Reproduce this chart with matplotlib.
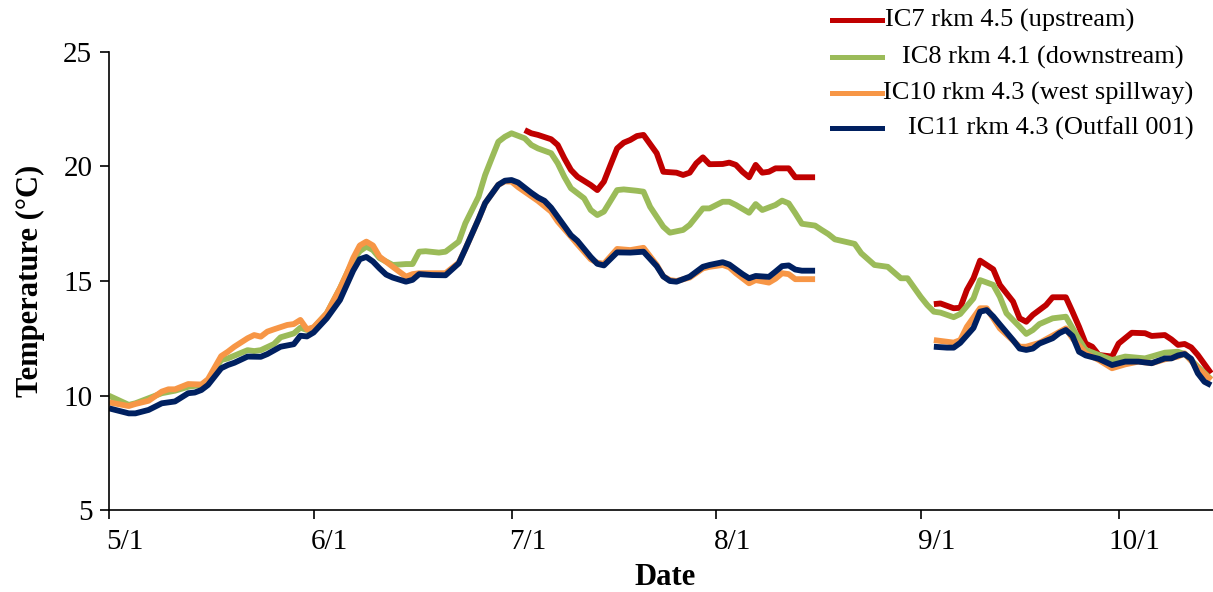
import numpy as np
import pandas as pd
import matplotlib
matplotlib.use('Agg')
import matplotlib.pyplot as plt
import matplotlib.dates as mdates
from matplotlib.lines import Line2D

plt.rcParams['font.family'] = ['Liberation Serif', 'DejaVu Serif']

# days after 5/1 and temperatures (°C)
start = pd.Timestamp('2012-05-01')

ic7_days_a = [63, 64, 65, 67, 68, 69, 70, 71, 73, 74, 75, 76, 77, 78, 79, 80, 81, 83, 84, 86,
              87, 88, 89, 90, 91, 93, 94, 95, 96, 97, 98, 99, 100, 101, 103, 104, 107]
ic7_temp_a = [21.59, 21.45, 21.38, 21.19, 20.94, 20.36, 19.85, 19.55, 19.19, 18.97,
              19.34, 20.07, 20.79, 21.04, 21.16, 21.33, 21.38, 20.58, 19.77, 19.73,
              19.63, 19.73, 20.14, 20.40, 20.10, 20.11, 20.17, 20.07, 19.77, 19.53,
              20.07, 19.73, 19.77, 19.92, 19.92, 19.53, 19.53]
ic7_days_b = [125, 126, 128, 129, 130, 131, 132, 134, 135, 137, 138, 139, 140, 142, 143, 145,
              146, 147, 148, 149, 150, 152, 153, 155, 157, 158, 160, 161, 162, 163, 164, 165, 167]
ic7_temp_b = [13.99, 14.02, 13.81, 13.83, 14.61, 15.12, 15.89, 15.51, 14.83, 14.10,
              13.37, 13.22, 13.52, 13.95, 14.29, 14.29, 13.66, 13.00, 12.27, 12.13,
              11.77, 11.70, 12.27, 12.74, 12.72, 12.60, 12.64, 12.45, 12.21, 12.25,
              12.10, 11.77, 10.97]

ic8_days = [0, 3, 4, 8, 10, 12, 14, 15, 17, 18,
            21, 22, 23, 25, 26, 28, 29, 30, 31, 33,
            35, 36, 37, 38, 39, 40, 41, 43, 45, 46,
            47, 48, 50, 51, 53, 54, 56, 57, 58, 59,
            60, 61, 63, 64, 65, 67, 68, 69, 70, 72,
            73, 74, 75, 77, 78, 80, 81, 82, 84, 85,
            87, 88, 90, 91, 93, 94, 95, 97, 98, 99,
            101, 102, 103, 104, 105, 107, 108, 109, 110, 113,
            114, 116, 118, 120, 121, 123, 124, 125, 126, 128,
            129, 131, 132, 134, 135, 136, 138, 139, 140, 141,
            143, 145, 146, 147, 148, 150, 152, 154, 157, 160,
            162, 163, 165, 167]
ic8_temp = [9.99, 9.59, 9.66, 10.10, 10.21, 10.38, 10.46, 10.64, 11.55, 11.62,
            11.98, 11.94, 11.98, 12.25, 12.54, 12.71, 12.96, 12.86, 12.95, 13.59,
            14.68, 15.30, 15.90, 16.30, 16.50, 16.35, 16.00, 15.70, 15.74, 15.74,
            16.28, 16.30, 16.24, 16.28, 16.72, 17.52, 18.68, 19.63, 20.36, 21.08,
            21.30, 21.45, 21.23, 20.94, 20.79, 20.58, 20.14, 19.55, 19.05, 18.61,
            18.10, 17.88, 18.03, 18.97, 19.00, 18.94, 18.90, 18.24, 17.37, 17.11,
            17.23, 17.45, 18.17, 18.17, 18.46, 18.46, 18.32, 17.98, 18.36, 18.10,
            18.32, 18.51, 18.39, 17.96, 17.50, 17.42, 17.23, 17.05, 16.82, 16.62,
            16.21, 15.70, 15.62, 15.12, 15.12, 14.31, 13.95, 13.66, 13.62, 13.42,
            13.56, 14.24, 15.04, 14.83, 14.31, 13.59, 13.00, 12.69, 12.86, 13.12,
            13.37, 13.44, 12.95, 12.45, 11.99, 11.77, 11.55, 11.70, 11.62, 11.87,
            11.91, 11.81, 11.26, 10.71]

ic10_days_a = [0, 3, 4, 6, 8, 9, 10, 12, 14, 15,
               17, 18, 19, 21, 22, 23, 24, 25, 27, 28,
               29, 30, 31, 33, 35, 36, 37, 38, 39, 40,
               41, 43, 45, 46, 47, 51, 53, 54, 56, 57,
               59, 60, 61, 62, 64, 65, 67, 68, 70, 71,
               73, 74, 75, 77, 79, 81, 83, 84, 85, 86,
               88, 90, 91, 93, 94, 95, 97, 98, 100, 101,
               102, 103, 104, 105, 107]
ic10_temp_a = [9.70, 9.54, 9.63, 9.77, 10.17, 10.27, 10.27, 10.50, 10.48, 10.71,
               11.72, 11.91, 12.13, 12.50, 12.64, 12.57, 12.79, 12.89, 13.08, 13.12,
               13.30, 12.89, 12.98, 13.59, 14.68, 15.30, 16.00, 16.55, 16.72, 16.55,
               16.06, 15.62, 15.19, 15.30, 15.34, 15.34, 15.80, 16.40, 17.70, 18.40,
               19.20, 19.35, 19.34, 19.10, 18.70, 18.50, 18.03, 17.60, 16.94, 16.60,
               15.95, 15.80, 15.75, 16.40, 16.35, 16.45, 15.70, 15.20, 15.04, 15.00,
               15.15, 15.55, 15.62, 15.70, 15.60, 15.34, 14.90, 15.04, 14.93, 15.10,
               15.34, 15.30, 15.08, 15.08, 15.08]
ic10_days_b = [125, 128, 129, 130, 132, 133, 135, 138, 139, 141,
               145, 146, 148, 150, 152, 154, 156, 158, 160, 162,
               163, 165, 167]
ic10_temp_b = [12.42, 12.31, 12.42, 13.00, 13.81, 13.81, 12.93, 12.13, 12.13, 12.30,
               12.93, 12.50, 11.84, 11.55, 11.19, 11.36, 11.48, 11.41, 11.58, 11.70,
               11.84, 11.19, 10.68]

ic11_days_a = [0, 3, 4, 6, 8, 10, 12, 13, 14, 15,
               17, 18, 19, 21, 23, 24, 26, 28, 29, 30,
               31, 33, 35, 37, 38, 39, 40, 41, 42, 43,
               45, 46, 47, 49, 51, 53, 54, 56, 57, 59,
               60, 61, 62, 64, 65, 66, 67, 68, 70, 71,
               73, 74, 75, 77, 79, 81, 83, 84, 85, 86,
               88, 90, 91, 93, 94, 96, 97, 98, 100, 101,
               102, 103, 104, 105, 107]
ic11_temp_a = [9.44, 9.22, 9.22, 9.37, 9.66, 9.74, 10.10, 10.13, 10.24, 10.46,
               11.19, 11.33, 11.43, 11.70, 11.69, 11.81, 12.13, 12.24, 12.61, 12.58,
               12.75, 13.37, 14.17, 15.45, 15.95, 16.05, 15.85, 15.55, 15.28, 15.15,
               14.97, 15.05, 15.30, 15.26, 15.25, 15.77, 16.40, 17.70, 18.40, 19.20,
               19.38, 19.41, 19.30, 18.85, 18.65, 18.50, 18.20, 17.80, 17.00, 16.75,
               16.05, 15.75, 15.68, 16.25, 16.24, 16.28, 15.65, 15.20, 15.00, 14.97,
               15.19, 15.62, 15.70, 15.82, 15.72, 15.30, 15.12, 15.22, 15.18, 15.41,
               15.65, 15.68, 15.50, 15.45, 15.45]
ic11_days_b = [125, 127, 128, 129, 131, 132, 133, 134, 135, 137,
               138, 139, 140, 141, 143, 144, 145, 146, 147, 148,
               150, 152, 154, 156, 158, 160, 161, 162, 163, 164,
               165, 166, 167]
ic11_temp_b = [12.13, 12.09, 12.09, 12.30, 12.95, 13.66, 13.73, 13.45, 13.10, 12.42,
               12.05, 11.99, 12.05, 12.27, 12.50, 12.72, 12.86, 12.60, 11.91, 11.75,
               11.60, 11.33, 11.48, 11.48, 11.41, 11.62, 11.62, 11.75, 11.81, 11.60,
               10.97, 10.60, 10.45]

labels = ['IC7 rkm 4.5 (upstream)', 'IC8 rkm 4.1 (downstream)',
          'IC10 rkm 4.3 (west spillway)', 'IC11 rkm 4.3 (Outfall 001)']
colors = ['#C00000', '#9BBB59', '#F79646', '#002060']


def to_dates(days):
    return start + pd.to_timedelta(days, unit='D')


W, H = 1213, 592
fig = plt.figure(figsize=(W / 100, H / 100), dpi=100)
ax = fig.add_axes([109 / W, 1 - 510 / H, 1 - 109 / W, (510 - 52) / H])

lw = 4.2
series = [
    [(ic7_days_a, ic7_temp_a), (ic7_days_b, ic7_temp_b)],
    [(ic8_days, ic8_temp)],
    [(ic10_days_a, ic10_temp_a), (ic10_days_b, ic10_temp_b)],
    [(ic11_days_a, ic11_temp_a), (ic11_days_b, ic11_temp_b)],
]
for segs, c in zip(series, colors):
    for d, t in segs:
        ax.plot(to_dates(d), t, color=c, lw=lw, solid_joinstyle='round', solid_capstyle='butt')

ax.set_ylim(5, 25)
ax.set_yticks([5, 10, 15, 20, 25])
ax.set_xlim(start, start + pd.Timedelta(days=167.3))
months = pd.date_range('2012-05-01', '2012-10-01', freq='MS')
ax.set_xticks(months)
ax.set_xticklabels([])

# month labels sit a bit right of their ticks, as in the original
for m in months:
    ax.annotate(f'{m.month}/{m.day}', xy=(mdates.date2num(m), 0),
                xycoords=ax.get_xaxis_transform(),
                xytext=(11.5, -14), textcoords='offset points',
                ha='center', va='top', fontsize=21, annotation_clip=False)

for s in ['top', 'right']:
    ax.spines[s].set_visible(False)
for s in ['left', 'bottom']:
    ax.spines[s].set_linewidth(1.2)
ax.tick_params(axis='both', direction='out', length=6.5, width=1.2, labelsize=21)
ax.tick_params(axis='y', pad=5.5)

ax.set_ylabel('Temperature (°C)', fontsize=22, fontweight='bold')
ax.yaxis.set_label_coords((45 - 109) / 1104, 0.5)
ax.set_xlabel('Date', fontsize=22, fontweight='bold')
ax.xaxis.set_label_coords((665 - 109) / 1104, (510 - 563) / 458)

# legend drawn by hand to keep the uneven text offsets
rows_y = [20, 57, 93, 128]
text_x = [885, 902, 883, 908]
for lab, c, yy, tx in zip(labels, colors, rows_y, text_x):
    fig.add_artist(Line2D([832 / W, 882 / W], [1 - yy / H, 1 - yy / H], color=c, lw=3.6))
    fig.text(tx / W, 1 - yy / H, lab, fontsize=19, va='center', ha='left')

fig.savefig('out.png', dpi=100)
